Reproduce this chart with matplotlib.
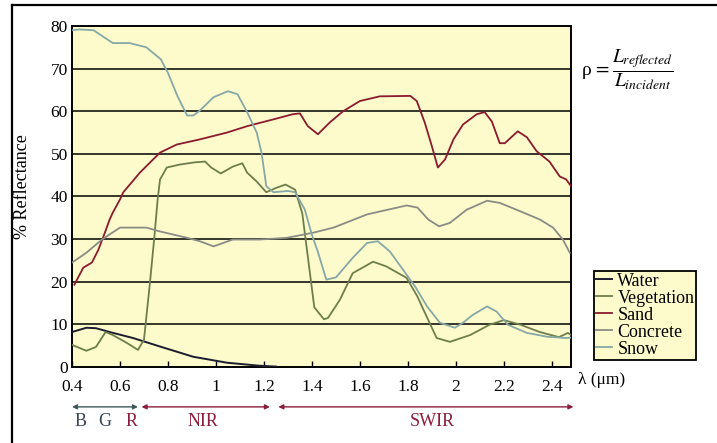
import matplotlib.pyplot as plt
from matplotlib.lines import Line2D
import matplotlib.transforms as mtransforms

plt.rcParams["font.family"] = ["Liberation Serif", "DejaVu Serif"]
plt.rcParams["mathtext.fontset"] = "stix"

# spectral reflectance curves (wavelength in um, % reflectance)
water_wl = [0.40, 0.46, 0.50, 0.557, 0.654, 0.767, 0.905, 1.046, 1.18, 1.25]
water_r = [8.2, 9.2, 9.1, 8.2, 6.8, 4.8, 2.4, 1.0, 0.3, 0.1]

veg_wl = [0.40, 0.46, 0.50, 0.54, 0.57, 0.63, 0.675, 0.70, 0.725, 0.745, 0.757, 0.767,
          0.795, 0.85, 0.91, 0.955, 0.98, 1.02, 1.07, 1.11, 1.13, 1.17, 1.21, 1.25,
          1.29, 1.33, 1.36, 1.385, 1.41, 1.45, 1.467, 1.517, 1.57, 1.655, 1.71, 1.795,
          1.84, 1.885, 1.92, 1.975, 2.06, 2.14, 2.2, 2.27, 2.35, 2.43, 2.467, 2.48]
veg_r = [5.2, 3.8, 4.7, 8.2, 7.5, 5.6, 4.0, 6.4, 19.8, 31.5, 39.3, 44.0,
         46.8, 47.5, 48.0, 48.2, 46.8, 45.4, 47.0, 47.8, 45.6, 43.5, 41.0, 42.0,
         42.8, 41.6, 36.0, 25.0, 14.0, 11.2, 11.5, 15.8, 22.0, 24.7, 23.6, 20.9,
         16.5, 11.0, 6.8, 5.9, 7.5, 9.9, 11.0, 9.9, 8.2, 7.0, 8.0, 7.5]

sand_wl = [0.41, 0.447, 0.483, 0.51, 0.537, 0.557, 0.57, 0.6, 0.614, 0.683, 0.767, 0.837,
           0.933, 1.046, 1.13, 1.24, 1.32, 1.35, 1.383, 1.425, 1.475, 1.53, 1.6, 1.683,
           1.81, 1.837, 1.87, 1.9, 1.925, 1.955, 1.99, 2.03, 2.087, 2.12, 2.15, 2.183,
           2.204, 2.258, 2.296, 2.337, 2.39, 2.433, 2.46, 2.48]
sand_r = [19.3, 23.3, 24.5, 27.5, 31.5, 34.6, 36.2, 39.3, 41.0, 45.6, 50.3, 52.2,
          53.4, 55.0, 56.5, 58.1, 59.3, 59.5, 56.5, 54.6, 57.4, 60.0, 62.4, 63.5,
          63.6, 62.4, 57.4, 51.8, 46.8, 48.7, 53.4, 56.9, 59.3, 59.8, 57.6, 52.5,
          52.5, 55.3, 53.9, 50.6, 48.2, 44.7, 44.0, 42.4]

concrete_wl = [0.40, 0.46, 0.525, 0.60, 0.71, 0.767, 0.88, 0.933, 0.99, 1.07, 1.18, 1.295,
               1.405, 1.49, 1.63, 1.795, 1.84, 1.885, 1.93, 1.975, 2.045, 2.13, 2.183,
               2.27, 2.35, 2.405, 2.446, 2.475]
concrete_r = [24.5, 26.8, 29.9, 32.7, 32.7, 31.8, 30.3, 29.5, 28.3, 29.9, 29.9, 30.3,
              31.5, 32.7, 35.8, 37.9, 37.4, 34.6, 33.0, 33.8, 36.9, 39.0, 38.5,
              36.5, 34.6, 32.7, 29.9, 26.8]

snow_wl = [0.40, 0.43, 0.49, 0.53, 0.57, 0.64, 0.71, 0.77, 0.80, 0.84, 0.88, 0.905,
           0.93, 0.99, 1.05, 1.09, 1.13, 1.17, 1.19, 1.21, 1.24, 1.30, 1.33, 1.37,
           1.40, 1.425, 1.46, 1.50, 1.57, 1.63, 1.675, 1.725, 1.78, 1.83, 1.88, 1.933,
           1.996, 2.03, 2.07, 2.13, 2.17, 2.217, 2.296, 2.38, 2.46, 2.48]
snow_r = [79.0, 79.2, 79.0, 77.5, 76.0, 76.0, 75.0, 72.2, 69.0, 63.5, 59.0, 59.0,
          60.0, 63.3, 64.7, 64.0, 59.8, 55.0, 50.3, 42.4, 41.0, 41.3, 41.0, 37.0,
          31.0, 27.0, 20.5, 21.0, 25.6, 29.1, 29.5, 27.1, 22.8, 18.9, 14.2, 10.4,
          9.2, 10.4, 12.2, 14.2, 13.0, 9.9, 8.0, 7.1, 6.8, 6.9]

x_ticks = [0.4, 0.6, 0.8, 1, 1.2, 1.4, 1.6, 1.8, 2, 2.2, 2.4]
x_tick_labels = ["0.4", "0.6", "0.8", "1", "1.2", "1.4", "1.6", "1.8", "2", "2.2", "2.4"]
y_ticks = [0, 10, 20, 30, 40, 50, 60, 70, 80]

fig = plt.figure(figsize=(7.17, 4.43), dpi=100)
ax = fig.add_axes([0.1004, 0.1716, 0.6960, 0.7697])
ax.set_facecolor("#fdfbcc")

for y in y_ticks[1:-1]:
    ax.axhline(y, color="black", lw=1.1, zorder=1)

ax.plot(water_wl, water_r, color="#1c1c30", lw=1.4, label="Water", zorder=3)
ax.plot(veg_wl, veg_r, color="#6d7e4c", lw=1.3, label="Vegetation", zorder=3)
ax.plot(sand_wl, sand_r, color="#8b1a2e", lw=1.3, label="Sand", zorder=3)
ax.plot(concrete_wl, concrete_r, color="#8a8c86", lw=1.3, label="Concrete", zorder=3)
ax.plot(snow_wl, snow_r, color="#86a8a6", lw=1.3, label="Snow", zorder=3)

ax.set_xlim(0.4, 2.48)
ax.set_ylim(0, 80)
ax.set_xticks(x_ticks)
ax.set_xticklabels(x_tick_labels)
ax.set_yticks(y_ticks)
ax.tick_params(axis="x", direction="in", length=4, width=1, labelsize=12.5, pad=9)
ax.tick_params(axis="y", length=0, labelsize=12.5, pad=3)
for s in ax.spines.values():
    s.set_linewidth(1.4)

ax.set_ylabel("% Reflectance", fontsize=13)
ax.yaxis.set_label_coords(-0.082, 0.53)

leg = ax.legend(loc="upper left", bbox_to_anchor=(594 / 717, 1 - 271 / 443),
                bbox_transform=fig.transFigure, fontsize=13, frameon=True,
                fancybox=False, edgecolor="black", facecolor="#fdfbcc", framealpha=1,
                handlelength=0.9, handletextpad=0.3, borderpad=0.1, labelspacing=0.0,
                borderaxespad=0)
leg.get_frame().set_linewidth(1.3)

fig.text(0.811, 0.842, r"ρ$\,=\dfrac{L_{reflected}}{L_{incident}}$", fontsize=14,
         va="center", ha="left")
fig.text(0.806, 0.142, "λ (μm)", fontsize=12.5, va="center", ha="left")

# spectral band arrows under the axis
trans = mtransforms.blended_transform_factory(ax.transData, ax.transAxes)
bands = [
    (0.40, 0.675, "#3e5a58"),
    (0.69, 1.225, "#8b1d3b"),
    (1.26, 2.49, "#8b1d3b"),
]
for x0, x1, c in bands:
    ax.annotate("", xy=(x1, -0.117), xytext=(x0, -0.117), xycoords=trans, textcoords=trans,
                arrowprops=dict(arrowstyle="<|-|>", color=c, lw=1.0, mutation_scale=7,
                                shrinkA=0, shrinkB=0),
                annotation_clip=False)
band_labels = [(0.437, "B", "#3a4652"), (0.537, "G", "#3a4652"), (0.65, "R", "#8b1d3b"),
               (0.946, "NIR", "#8b1d3b"), (1.9, "SWIR", "#8b1d3b")]
for x, t, c in band_labels:
    ax.text(x, -0.16, t, color=c, fontsize=13, ha="center", va="center",
            transform=trans, clip_on=False)

# frame of the original page
fig.add_artist(Line2D([12 / 717, 12 / 717], [0, 1 - 5 / 443], color="black", lw=1.6,
                      transform=fig.transFigure))
fig.add_artist(Line2D([12 / 717, 1], [1 - 5 / 443, 1 - 5 / 443], color="black", lw=1.6,
                      transform=fig.transFigure))

plt.savefig("out.png", dpi=100)
plt.close()
